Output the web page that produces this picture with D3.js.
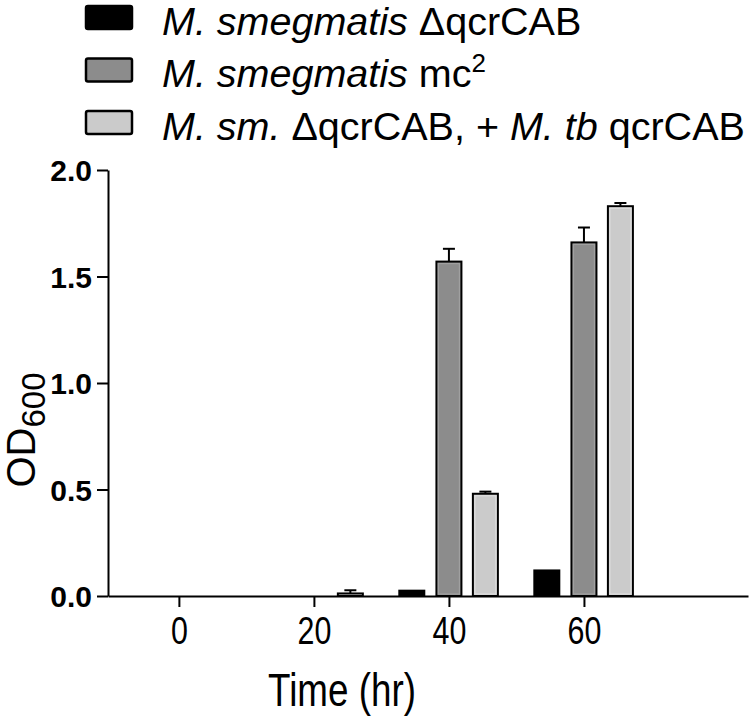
<!DOCTYPE html>
<html>
<head>
<meta charset="utf-8">
<script src="https://cdn.jsdelivr.net/npm/d3@7"></script>
<style>
  body { margin: 0; background: #fff; }
  svg { display: block; }
</style>
</head>
<body>
<div id="chart"></div>
<script>
// time points (hr)
let times = [0, 20, 40, 60];
let seriesNames = ["dqcr", "mc2", "comp"];
// OD600 means
let dqcrMeans = [0, 0, 0.025, 0.12];
let mc2Means = [0, 0, 1.57, 1.66];
let compMeans = [0, 0.012, 0.48, 1.83];
// error (SD)
let dqcrErr = [0, 0, 0, 0];
let mc2Err = [0, 0, 0.06, 0.07];
let compErr = [0, 0.015, 0.01, 0.015];
let yTicks = [0, 0.5, 1.0, 1.5, 2.0];

let colors = { dqcr: "#000000", mc2: "#8c8c8c", comp: "#cbcbcb" };
let innerColors = { dqcr: "#000000", mc2: "#a0a0a0", comp: "#dedede" };

function chartConfig(){
    let width = 750;
    let height = 719;
    let svg = d3.select("#chart")
        .append("svg")
        .attr("width", width)
        .attr("height", height);
    return { width, height, svg };
}

function chartScales(config){
    let xScale = d3.scaleLinear()
        .domain([-10.5, 84.3])
        .range([108, 748]);
    let yScale = d3.scaleLinear()
        .domain([0, 2])
        .range([596, 170]);
    // bar offset inside a group, in hours
    let offset = d3.scaleOrdinal()
        .domain(seriesNames)
        .range([-5.5, 0, 5.4]);
    return { xScale, yScale, offset };
}

function drawAxes(scales, config){
    let { svg } = config;
    let { xScale, yScale } = scales;
    let font = "Liberation Sans, Arial, sans-serif";

    let yAxis = svg.append("g")
        .attr("transform", "translate(108,0)")
        .call(d3.axisLeft(yScale).tickValues(yTicks).tickFormat(d3.format(".1f"))
            .tickSize(11).tickSizeOuter(0).tickPadding(5));
    yAxis.selectAll("text")
        .style("font-family", font)
        .style("font-weight", "bold")
        .style("font-size", "30px")
        .attr("dy", "0.36em");

    let xAxis = svg.append("g")
        .attr("transform", "translate(0,596)")
        .call(d3.axisBottom(xScale).tickValues(times).tickSize(11).tickSizeOuter(0).tickPadding(10));
    // narrow look, like Arial Narrow
    xAxis.selectAll("text")
        .style("font-family", font)
        .style("font-size", "38px")
        .attr("transform", "scale(0.8,1)")
        .attr("dy", "0.71em");

    svg.selectAll(".domain, .tick line")
        .attr("stroke", "#000")
        .attr("stroke-width", 2);

    svg.append("text")
        .attr("transform", "translate(342,706) scale(0.8,1)")
        .attr("text-anchor", "middle")
        .style("font-family", font)
        .style("font-size", "46px")
        .text("Time (hr)");

    let yTitle = svg.append("text")
        .attr("transform", "translate(35,430) rotate(-90)")
        .attr("text-anchor", "middle")
        .style("font-family", font)
        .style("font-size", "40px");
    yTitle.append("tspan").text("OD");
    yTitle.append("tspan").attr("dy", 10).style("font-size", "33px").text("600");
}

function drawBars(scales, config){
    let { svg } = config;
    let { xScale, yScale, offset } = scales;
    let meansBy = { dqcr: dqcrMeans, mc2: mc2Means, comp: compMeans };
    let errBy = { dqcr: dqcrErr, mc2: mc2Err, comp: compErr };
    let barW = 25;

    let rows = [];
    seriesNames.forEach(function(s){
        times.forEach(function(t, i){
            rows.push({ s: s, t: t, v: meansBy[s][i], e: errBy[s][i] });
        });
    });
    rows = rows.filter(d => d.v > 0);

    let g = svg.append("g");

    // error bars (upper only)
    let eb = rows.filter(d => d.e > 0);
    g.selectAll("line.err")
        .data(eb)
        .enter()
        .append("line")
        .attr("class", "err")
        .attr("x1", d => xScale(d.t + offset(d.s)))
        .attr("x2", d => xScale(d.t + offset(d.s)))
        .attr("y1", d => yScale(d.v))
        .attr("y2", d => yScale(d.v + d.e))
        .attr("stroke", "#000")
        .attr("stroke-width", 2);
    g.selectAll("line.cap")
        .data(eb)
        .enter()
        .append("line")
        .attr("class", "cap")
        .attr("x1", d => xScale(d.t + offset(d.s)) - 6)
        .attr("x2", d => xScale(d.t + offset(d.s)) + 6)
        .attr("y1", d => yScale(d.v + d.e))
        .attr("y2", d => yScale(d.v + d.e))
        .attr("stroke", "#000")
        .attr("stroke-width", 2);

    g.selectAll("rect.bar")
        .data(rows)
        .enter()
        .append("rect")
        .attr("class", "bar")
        .attr("x", d => xScale(d.t + offset(d.s)) - barW / 2)
        .attr("y", d => yScale(d.v))
        .attr("width", barW)
        .attr("height", d => yScale(0) - yScale(d.v))
        .attr("fill", d => colors[d.s])
        .attr("stroke", "#000")
        .attr("stroke-width", 2);

    // faint lighter rim just inside the outline
    g.selectAll("rect.rim")
        .data(rows.filter(d => d.s != "dqcr" && yScale(0) - yScale(d.v) > 6))
        .enter()
        .append("rect")
        .attr("class", "rim")
        .attr("x", d => xScale(d.t + offset(d.s)) - barW / 2 + 2)
        .attr("y", d => yScale(d.v) + 2)
        .attr("width", barW - 4)
        .attr("height", d => yScale(0) - yScale(d.v) - 4)
        .attr("fill", "none")
        .attr("stroke", d => innerColors[d.s])
        .attr("stroke-width", 1.2);
}

function drawLegend(config){
    let { svg } = config;
    let font = "Liberation Sans, Arial, sans-serif";
    let items = [
        [["M. smegmatis", true], [" \u0394qcrCAB", false]],
        [["M. smegmatis", true], [" mc", false], ["2", false, true]],
        [["M. sm.", true], [" \u0394qcrCAB, + ", false], ["M. tb", true], [" qcrCAB", false]]
    ];
    let lg = svg.append("g");
    lg.selectAll("rect")
        .data(seriesNames)
        .enter()
        .append("rect")
        .attr("x", 86)
        .attr("y", (d, i) => 6 + i * 52.5)
        .attr("width", 46)
        .attr("height", 23)
        .attr("rx", 2)
        .attr("fill", d => colors[d])
        .attr("stroke", "#000")
        .attr("stroke-width", 2.5);

    items.forEach(function(parts, i){
        let t = lg.append("text")
            .attr("transform", "translate(162," + (34.5 + i * 52.5) + ") scale(1.04,1)")
            .style("font-family", font)
            .style("font-size", "38px");
        parts.forEach(function(p){
            let sp = t.append("tspan")
                .style("font-style", p[1] ? "italic" : "normal")
                .text(p[0]);
            if (p[2]) {
                sp.attr("dy", -15).style("font-size", "25px");
            }
        });
    });
}

let config = chartConfig();
let scales = chartScales(config);
drawBars(scales, config);
drawAxes(scales, config);
drawLegend(config);
</script>
</body>
</html>
